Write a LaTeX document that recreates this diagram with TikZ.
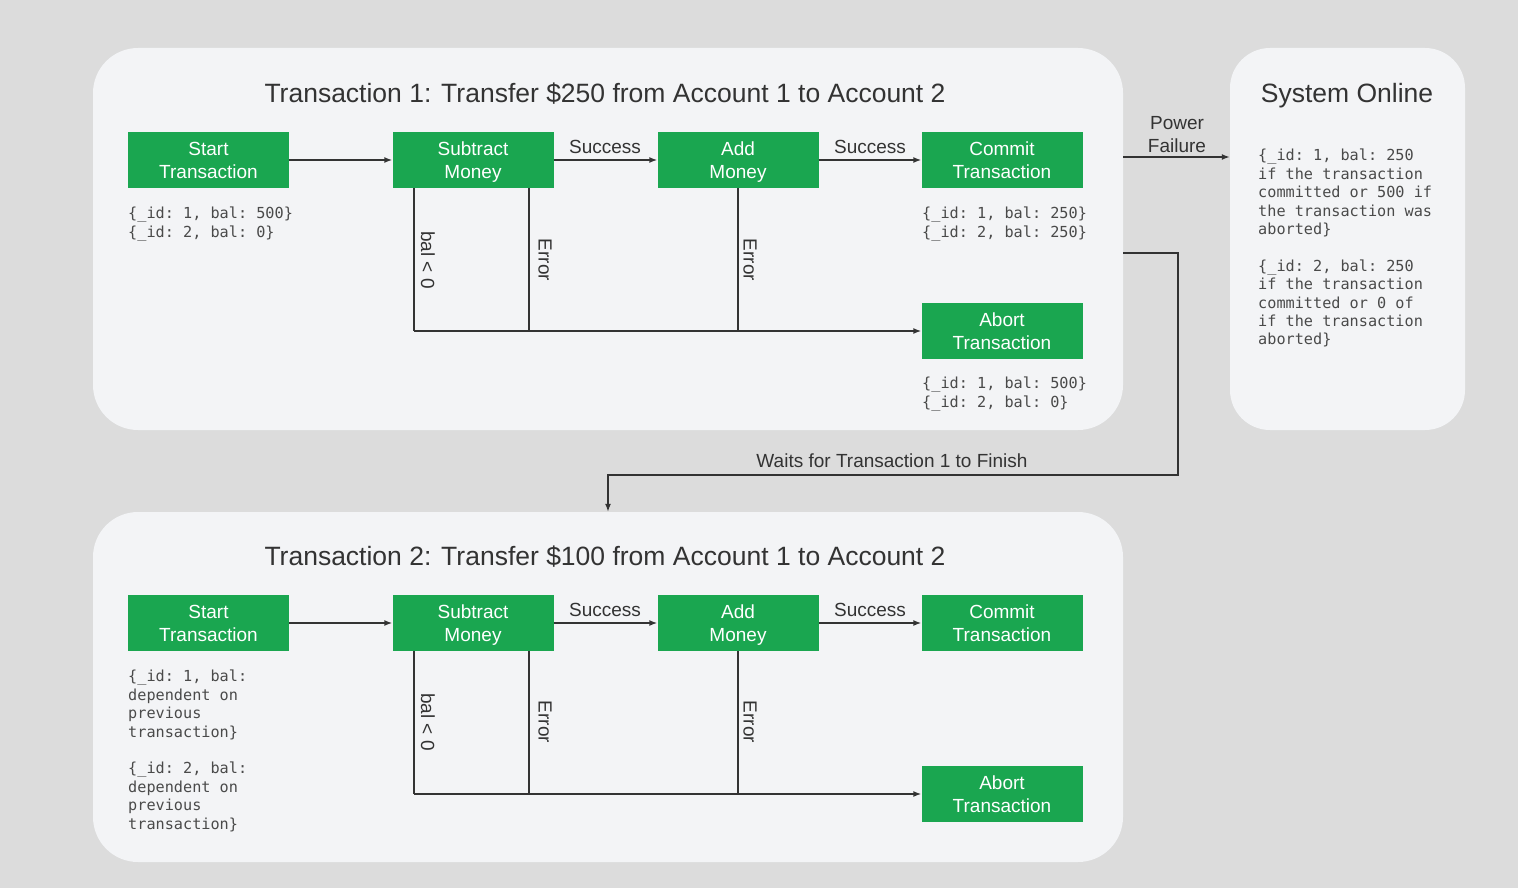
\documentclass[tikz,border=0pt]{standalone}
\usepackage{fontspec}
\setmainfont{Liberation Sans}
\newfontfamily\monof{DejaVu Sans Mono}
\usetikzlibrary{arrows.meta}
\definecolor{bgc}{HTML}{DCDCDC}
\definecolor{panelc}{HTML}{F3F4F6}
\definecolor{greenc}{RGB}{26,166,80}
\definecolor{inkc}{HTML}{333333}
\definecolor{monoc}{HTML}{4A4A4A}
\begin{document}
\begin{tikzpicture}[x=1pt,y=-1pt,
  panel/.style={fill=panelc, draw=none, rounded corners=45pt, inner sep=0pt},
  greenbox/.style={fill=greenc, text=white, minimum width=161pt, minimum height=56pt, inner sep=0pt, text depth=0pt, align=center, font=\fontsize{19}{23}\selectfont},
  paneltitle/.style={text=inkc, inner sep=0pt, anchor=base, font=\fontsize{26.5}{30}\selectfont},
  lbl/.style={text=inkc, inner sep=0pt, align=center, font=\fontsize{19}{23}\selectfont},
  monotxt/.style={text=monoc, inner sep=0pt, anchor=north west, align=left, font=\monof\fontsize{15.2}{18.4}\selectfont\frenchspacing},
  conn/.style={draw=inkc, line width=1.5pt},
  arr/.style={conn, -{Latex[length=8pt,width=6pt]}}
]
\useasboundingbox (0,0) rectangle (1518,888);
\fill[bgc] (0,0) rectangle (1518,888);

% panels
\node[panel, minimum width=1030pt, minimum height=382pt] (p1) at (608,239) {};
\node[panel, minimum width=235pt, minimum height=382pt, rounded corners=40pt] (p3) at (1347.5,239) {};
\node[panel, minimum width=1030pt, minimum height=350pt] (p2) at (608,687) {};

% titles
\node[paneltitle] (t1) at (605,102.5) {Transaction 1: Transfer \$250 from Account 1 to Account 2};
\node[paneltitle] (t3) at (1347,102.5) {System Online};
\node[paneltitle] (t2) at (605,565.5) {Transaction 2: Transfer \$100 from Account 1 to Account 2};

% ---- transaction 1
\node[greenbox] (s1) at (208.5,160) {Start\\Transaction};
\node[greenbox] (m1) at (473,160) {Subtract\\Money};
\node[greenbox] (a1) at (738,160) {Add\\Money};
\node[greenbox] (c1) at (1002,160) {Commit\\Transaction};
\node[greenbox] (x1) at (1002,331) {Abort\\Transaction};

\draw[arr] (s1) -- (m1);
\draw[arr] (m1) -- (a1);
\draw[arr] (a1) -- (c1);
\node[lbl] (su1) at (605,147) {Success};
\node[lbl] (su2) at (870,147) {Success};

\coordinate (j1) at (414,331);
\coordinate (j2) at (529,331);
\coordinate (j3) at (738,331);
\draw[conn] (m1.south -| j1) -- (j1);
\draw[conn] (m1.south -| j2) -- (j2);
\draw[conn] (a1.south) -- (j3);
\draw[arr] (j1) -- (x1.west);
\node[lbl, rotate=-90] (b1) at (428,260) {bal < 0};
\node[lbl, rotate=-90] (e1) at (545,260) {Error};
\node[lbl, rotate=-90] (e2) at (750,260) {Error};

\node[monotxt] (d1) at (128,207) {\{\_id: 1, bal: 500\}\\\{\_id: 2, bal: 0\}};
\node[monotxt] (d2) at (922,207) {\{\_id: 1, bal: 250\}\\\{\_id: 2, bal: 250\}};
\node[monotxt] (d3) at (922,377) {\{\_id: 1, bal: 500\}\\\{\_id: 2, bal: 0\}};

% system online
\node[monotxt] (d4) at (1258,149) {\{\_id: 1, bal: 250\\if the transaction\\committed or 500 if\\the transaction was\\aborted\}\\[18.4pt]\{\_id: 2, bal: 250\\if the transaction\\committed or 0 of\\if the transaction\\aborted\}};

% power failure
\coordinate (pf) at (0,157);
\draw[arr] (p1.east |- pf) -- (p3.west |- pf);
\node[lbl] (pfl) at (1177,134.5) {Power\\Failure};

% waits
\coordinate (w1) at (1178,253);
\coordinate (w2) at (1178,475);
\coordinate (w3) at (608,475);
\draw[arr] (p1.east |- w1) -- (w1) -- (w2) -- (w3) -- (p2.north);
\node[lbl] (wl) at (892,461) {Waits for Transaction 1 to Finish};

% ---- transaction 2
\node[greenbox] (s2) at (208.5,623) {Start\\Transaction};
\node[greenbox] (m2) at (473,623) {Subtract\\Money};
\node[greenbox] (a2) at (738,623) {Add\\Money};
\node[greenbox] (c2) at (1002,623) {Commit\\Transaction};
\node[greenbox] (x2) at (1002,794) {Abort\\Transaction};

\draw[arr] (s2) -- (m2);
\draw[arr] (m2) -- (a2);
\draw[arr] (a2) -- (c2);
\node[lbl] (su3) at (605,610) {Success};
\node[lbl] (su4) at (870,610) {Success};

\coordinate (k1) at (414,794);
\coordinate (k2) at (529,794);
\coordinate (k3) at (738,794);
\draw[conn] (m2.south -| k1) -- (k1);
\draw[conn] (m2.south -| k2) -- (k2);
\draw[conn] (a2.south) -- (k3);
\draw[arr] (k1) -- (x2.west);
\node[lbl, rotate=-90] (b2) at (428,722) {bal < 0};
\node[lbl, rotate=-90] (e3) at (545,722) {Error};
\node[lbl, rotate=-90] (e4) at (750,722) {Error};

\node[monotxt] (d5) at (128,670) {\{\_id: 1, bal:\\dependent on\\previous\\transaction\}\\[18.4pt]\{\_id: 2, bal:\\dependent on\\previous\\transaction\}};
\end{tikzpicture}
\end{document}
